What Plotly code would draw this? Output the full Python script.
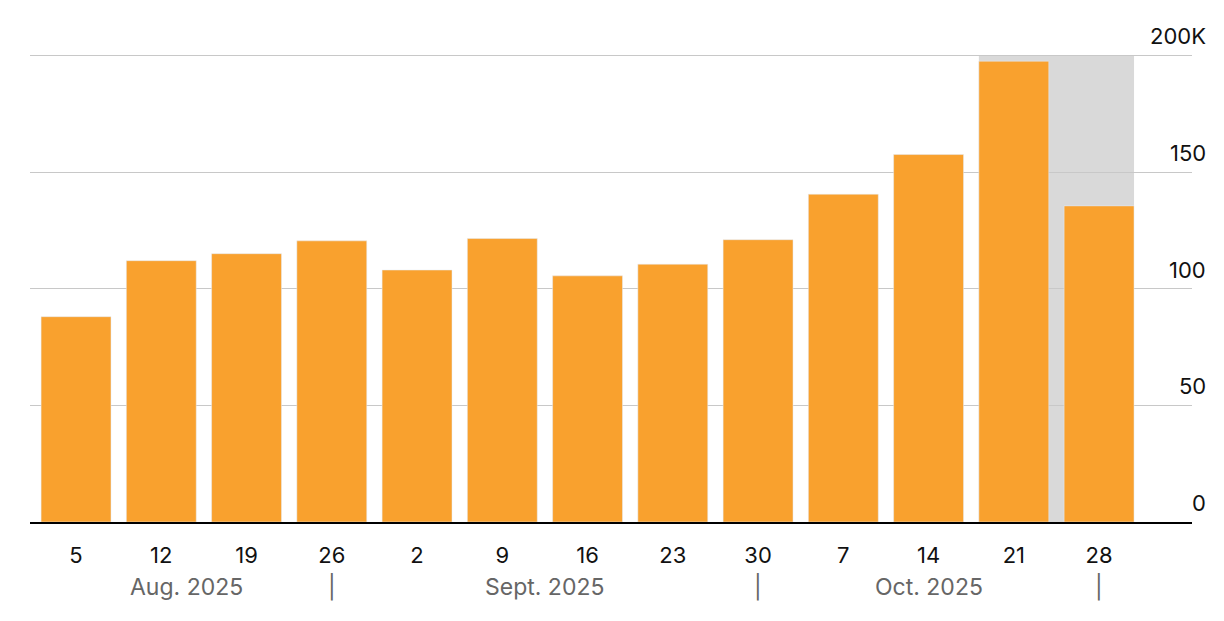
import plotly.graph_objects as go

day_labels = ["5", "12", "19", "26", "2", "9", "16", "23", "30", "7", "14", "21", "28"]
values = [88, 112, 115, 120.5, 108, 121.5, 105.5, 110.5, 121, 140.5, 157.5, 197.5, 135.5]
y_ticks = [0, 50, 100, 150, 200]
y_tick_text = ["0", "50", "100", "150", "200K"]
months = [(1.3, "Aug. 2025"), (5.5, "Sept. 2025"), (10, "Oct. 2025")]
separators = [3, 8, 12]

x = list(range(len(values)))
font = "Inter, Liberation Sans, sans-serif"

fig = go.Figure(go.Bar(x=x, y=values, marker_color="#F9A12E", width=0.82))

fig.add_shape(type="rect", xref="x", yref="y", x0=10.59, x1=12.41, y0=0, y1=200,
              fillcolor="#D9D9D9", line_width=0, layer="below")

fig.update_xaxes(range=[-0.54, 13.09], tickvals=x, ticktext=day_labels, showgrid=False,
                 showline=True, linecolor="black", linewidth=1.5, ticks="",
                 ticklabelstandoff=13,
                 tickfont=dict(size=22, color="#111", family=font))
fig.update_yaxes(range=[0, 200.6], tickvals=y_ticks, showticklabels=False,
                 gridcolor="#C8C8C8", gridwidth=1.2, zeroline=False)

ann = []
for v, t in zip(y_ticks, y_tick_text):
    ann.append(dict(xref="paper", yref="y", x=1.014, y=v, text=t, showarrow=False,
                    xanchor="right", yanchor="bottom", yshift=4,
                    font=dict(size=22, color="#111", family=font)))
for pos, t in months:
    ann.append(dict(xref="x", yref="paper", x=pos, y=0, yshift=-81, text=t, showarrow=False,
                    font=dict(size=23, color="#666", family=font)))
for pos in separators:
    ann.append(dict(xref="x", yref="paper", x=pos, y=0, yshift=-81, text="|", showarrow=False,
                    font=dict(size=23, color="#666", family=font)))

fig.update_layout(width=1224, height=621, margin=dict(l=22, r=40, t=46, b=107),
                  plot_bgcolor="white", paper_bgcolor="white", showlegend=False,
                  annotations=ann)

fig.write_html("out.html")
